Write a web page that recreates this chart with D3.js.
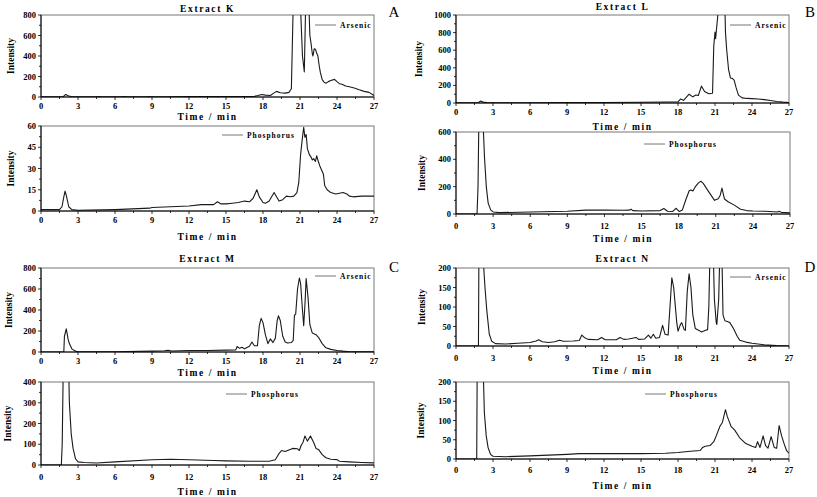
<!DOCTYPE html>
<html><head><meta charset="utf-8">
<script src="https://cdn.jsdelivr.net/npm/d3@7"></script>
<style>
body{margin:0;background:#fff;}
text{font-family:"Liberation Serif","Times New Roman",serif;fill:#000;}
</style></head>
<body><svg id="c" width="817" height="497"></svg>
<script>
// ---- data ----
const xTicks = [0,3,6,9,12,15,18,21,24,27];
const titles = ["Extract K","Extract L","Extract M","Extract N"];
const letters = ["A","B","C","D"];
const seriesNames = ["Arsenic","Phosphorus"];
const yTicksKAs = [0,200,400,600,800];
const yTicksKP = [0,15,30,45,60];
const yTicksLAs = [0,200,400,600,800,1000];
const yTicksLP = [0,200,400,600];
const yTicksMAs = [0,200,400,600,800];
const yTicksMP = [0,100,200,300,400];
const yTicksNAs = [0,50,100,150,200];
const yTicksNP = [0,50,100,150,200];

const kAs = [[0,2],[1,1],[1.8,3],[2.0,25],[2.2,12],[2.5,3],[3,2],[4.5,1],[4.7,5],[4.9,1],[6.5,2],[6.7,4],[7,1],[8.5,2],[8.8,4],[9,1],[10,3],[12,4],[15,4],[16.5,5],[17.3,6],[17.6,15],[17.9,25],[18.2,18],[18.6,15],[18.9,40],[19.1,55],[19.4,42],[19.8,38],[20.1,45],[20.3,80],[20.45,900],[20.6,1500],[20.9,1500],[21.05,850],[21.2,400],[21.35,245],[21.45,850],[21.6,1500],[21.72,900],[21.8,600],[21.9,520],[22.0,420],[22.05,400],[22.15,470],[22.25,465],[22.35,430],[22.45,400],[22.55,310],[22.65,240],[22.8,170],[22.95,145],[23.1,135],[23.3,150],[23.5,160],[23.8,172],[24.0,150],[24.2,130],[24.4,125],[24.7,108],[25.0,100],[25.4,88],[25.8,70],[26.2,55],[26.6,45],[27,15]];
const kP = [[0,1],[1.5,1],[1.7,3],[1.85,10],[1.95,14],[2.05,11],[2.25,3],[2.5,1],[3,0.5],[6,1],[8.8,2],[9,2.5],[12,3.5],[13,4.5],[14,4.5],[14.3,6.5],[14.6,5],[15,5],[15.5,5.5],[16,6],[16.5,7],[16.9,6.5],[17.2,9],[17.5,15],[17.7,10],[18,6],[18.2,5.5],[18.5,7],[18.9,13],[19.1,10],[19.3,7],[19.6,8],[19.9,10.5],[20.2,10],[20.5,10.5],[20.75,13],[20.9,20],[21.05,40],[21.2,52],[21.3,59],[21.4,52],[21.5,54],[21.6,44],[21.75,40],[21.9,38],[22.0,36],[22.1,37],[22.25,35],[22.35,39],[22.45,36],[22.6,32],[22.75,29],[22.9,26],[23.0,18],[23.2,15],[23.5,13],[23.9,12],[24.2,12.5],[24.5,13],[24.8,12],[25.0,10.5],[25.3,10],[26,10.5],[27,10.5]];
const lAs = [[0,2],[1.8,3],[2.0,22],[2.2,10],[2.5,4],[3,3],[6,3],[9,5],[12,6],[15,8],[17,12],[18,12],[18.2,45],[18.45,30],[18.9,100],[19.2,70],[19.45,90],[19.65,85],[19.9,192],[20.15,130],[20.5,105],[20.8,110],[20.9,650],[21.0,805],[21.05,730],[21.15,880],[21.3,1100],[21.8,1100],[21.85,800],[21.95,600],[22.1,380],[22.25,285],[22.4,280],[22.55,260],[22.7,180],[22.9,90],[23.2,58],[23.6,52],[24,50],[24.5,45],[25,38],[25.5,28],[26,17],[26.5,10],[27,5]];
const lP = [[0,0],[1.7,0],[1.78,200],[1.85,700],[2.15,700],[2.22,600],[2.3,420],[2.45,200],[2.6,80],[2.8,30],[3.0,15],[3.5,10],[6,15],[9,20],[10.5,28],[12,28],[13.5,27],[14.0,28],[14.15,35],[14.3,25],[15,22],[16.5,25],[16.8,40],[17.1,20],[17.5,18],[17.8,42],[18.05,18],[18.3,30],[18.6,110],[18.85,170],[19.0,175],[19.15,168],[19.35,200],[19.6,228],[19.8,240],[20.0,222],[20.3,180],[20.6,140],[20.9,100],[21.2,112],[21.35,135],[21.5,190],[21.7,110],[22.0,90],[22.5,65],[23.0,35],[23.5,25],[24,22],[25,20],[26,15],[26.1,20],[26.3,12],[27,8]];
const mAs = [[0,0],[1.85,0],[1.9,150],[2.05,220],[2.2,120],[2.3,80],[2.5,30],[2.8,8],[3,3],[6,3],[9,8],[10,12],[10.3,16],[10.6,10],[12,15],[13.5,15],[15,18],[15.8,20],[15.9,52],[16.1,35],[16.3,45],[16.5,30],[16.9,55],[17.1,95],[17.3,60],[17.55,60],[17.7,250],[17.85,320],[18.0,280],[18.2,160],[18.4,80],[18.6,125],[18.8,90],[19.0,130],[19.15,300],[19.25,345],[19.4,300],[19.6,150],[19.8,95],[20.0,85],[20.3,90],[20.45,110],[20.55,350],[20.65,360],[20.8,600],[20.95,705],[21.05,650],[21.2,400],[21.3,250],[21.4,450],[21.5,700],[21.65,520],[21.8,260],[22.0,180],[22.3,165],[22.5,140],[22.8,80],[23.1,40],[23.5,25],[24.0,15],[24.5,8],[25,3],[27,2]];
const mP = [[0,0],[1.65,0],[1.72,100],[1.8,450],[2.25,450],[2.3,300],[2.45,150],[2.6,80],[2.8,30],[3.0,15],[3.5,12],[4.5,10],[6,15],[9,25],[10.5,28],[12,25],[14,22],[15,20],[17,18],[18.5,18],[19.0,25],[19.3,55],[19.5,70],[19.8,65],[20.0,70],[20.4,80],[20.8,78],[20.95,70],[21.1,95],[21.25,110],[21.4,140],[21.6,115],[21.85,140],[22.1,110],[22.3,80],[22.5,75],[22.8,50],[23.1,35],[23.5,28],[24.0,26],[24.2,18],[25,15],[26,12],[27,10]];
const nAs = [[0,0],[1.82,0],[1.86,250],[2.2,250],[2.25,200],[2.35,150],[2.5,90],[2.7,30],[2.9,12],[3.2,6],[4,5],[5,7],[6,9],[6.5,13],[6.7,16],[7.0,11],[7.5,9],[8,11],[8.4,15],[8.7,12],[9.5,13],[10,14],[10.2,28],[10.4,22],[10.7,17],[11.5,16],[11.8,22],[12.1,16],[13,16],[13.3,22],[13.6,17],[14,18],[14.6,22],[14.8,17],[15.3,18],[15.6,28],[15.8,20],[16.0,30],[16.2,20],[16.5,22],[16.75,53],[16.95,30],[17.2,28],[17.35,100],[17.5,175],[17.65,150],[17.9,60],[18.0,38],[18.2,55],[18.3,60],[18.5,42],[18.6,40],[18.75,140],[18.9,185],[19.05,150],[19.2,80],[19.4,45],[19.7,40],[19.9,36],[20.2,40],[20.4,42],[20.5,100],[20.6,250],[20.85,250],[20.95,120],[21.1,60],[21.15,55],[21.3,120],[21.4,250],[21.55,250],[21.65,80],[21.8,65],[22.0,63],[22.2,60],[22.5,45],[22.8,25],[23.0,15],[23.5,10],[24,7],[25,3],[26,1],[27,0]];
const nP = [[0,0],[1.68,0],[1.72,250],[2.19,250],[2.3,120],[2.45,60],[2.6,30],[2.8,12],[3.0,7],[4,6],[6,8],[9,12],[10,14],[12,14],[15,14],[17,15],[18,17],[19,20],[19.8,22],[20.0,30],[20.2,33],[20.6,35],[20.9,45],[21.1,60],[21.4,85],[21.6,95],[21.75,115],[21.85,128],[22.0,110],[22.3,85],[22.6,75],[23.0,55],[23.5,40],[24.0,33],[24.3,30],[24.45,45],[24.65,30],[24.9,60],[25.1,35],[25.3,28],[25.55,58],[25.8,30],[26.0,28],[26.2,87],[26.4,60],[26.6,40],[26.8,22],[27,15]];

// ---- layout ----
const panels = [
 {data:kAs, yt:yTicksKAs, minor:100, name:0, box:[41,374,15,97], tl:109, tm:120, ix:11, title:0, titleY:12, leg:[315,25]},
 {data:kP,  yt:yTicksKP,  minor:7.5, name:1, box:[41,374,126,211], tl:223, tm:240, ix:11, leg:[222,135]},
 {data:lAs, yt:yTicksLAs, minor:100, name:0, box:[456,789,15,103], tl:115, tm:130, ix:419, title:1, titleY:10, leg:[730,25]},
 {data:lP,  yt:yTicksLP,  minor:100, name:1, box:[456,790,132,214], tl:229, tm:242, ix:422, leg:[644,144]},
 {data:mAs, yt:yTicksMAs, minor:100, name:0, box:[41,374,268,352], tl:364, tm:376, ix:9, title:2, titleY:262, leg:[315,276]},
 {data:mP,  yt:yTicksMP,  minor:50, name:1, box:[41,374,382,465], tl:480, tm:495, ix:8, leg:[226,394]},
 {data:nAs, yt:yTicksNAs, minor:25, name:0, box:[456,789,268,346], tl:361, tm:374, ix:422, title:3, titleY:262, leg:[730,277]},
 {data:nP,  yt:yTicksNP,  minor:25, name:1, box:[456,789,382,459], tl:473, tm:489, ix:421, leg:[645,394]}
];
const letterPos = [[394,17],[810,17],[394,272],[810,272]];

const svg = d3.select("#c");
panels.forEach((p,i)=>{
  const [x0,x1,y0,y1] = p.box;
  const yMax = p.yt[p.yt.length-1];
  const x = d3.scaleLinear().domain([0,27]).range([x0,x1]);
  const y = d3.scaleLinear().domain([0,yMax]).range([y1,y0]);
  const g = svg.append("g");
  const cid = "clip"+i;
  svg.append("clipPath").attr("id",cid).append("rect")
    .attr("x",x0).attr("y",y0).attr("width",x1-x0).attr("height",y1-y0);
  // frame
  g.append("rect").attr("x",x0).attr("y",y0).attr("width",x1-x0).attr("height",y1-y0)
    .attr("fill","none").attr("stroke","#777").attr("stroke-width",1);
  // data
  g.append("path").datum(p.data).attr("clip-path","url(#"+cid+")")
    .attr("fill","none").attr("stroke","#1a1a1a").attr("stroke-width",1.1)
    .attr("stroke-linejoin","round")
    .attr("d", d3.line().x(d=>x(d[0])).y(d=>y(d[1])));
  // x axis
  const minorX = d3.range(0,27.01,1.5);
  g.append("line").attr("x1",x0).attr("x2",x1).attr("y1",y1).attr("y2",y1).attr("stroke","#000").attr("stroke-width",1);
  g.selectAll(".mx").data(minorX).enter().append("line")
    .attr("x1",d=>x(d)).attr("x2",d=>x(d)).attr("y1",y1).attr("y2",d=>y1+(d%3===0?3:2))
    .attr("stroke","#000").attr("stroke-width",0.8);
  g.selectAll(".xl").data(xTicks).enter().append("text")
    .attr("x",d=>x(d)).attr("y",p.tl).attr("text-anchor","middle")
    .attr("font-size",8.5).attr("font-weight","bold").text(d=>d);
  g.append("text").attr("x",(x0+x1)/2).attr("y",p.tm).attr("text-anchor","middle")
    .attr("font-size",9.5).attr("font-weight","bold").attr("letter-spacing",1.6).text("Time / min");
  // y axis
  g.append("line").attr("x1",x0).attr("x2",x0).attr("y1",y0).attr("y2",y1).attr("stroke","#000").attr("stroke-width",1);
  const minorY = d3.range(0,yMax+0.01,p.minor);
  g.selectAll(".my").data(minorY).enter().append("line")
    .attr("x1",x0).attr("x2",d=>x0-(p.yt.includes(d)?3:2)).attr("y1",d=>y(d)).attr("y2",d=>y(d))
    .attr("stroke","#000").attr("stroke-width",0.8);
  g.selectAll(".yl").data(p.yt).enter().append("text")
    .attr("x",x0-5).attr("y",d=>y(d)+3).attr("text-anchor","end")
    .attr("font-size",8.5).attr("font-weight","bold").text(d=>d);
  g.append("text").attr("transform",`translate(${p.ix},${(y0+y1)/2}) rotate(-90)`)
    .attr("text-anchor","middle").attr("dy","0.35em")
    .attr("font-size",9.5).attr("font-weight","bold").text("Intensity");
  // legend
  const [lx,ly] = p.leg;
  g.append("line").attr("x1",lx).attr("x2",lx+21).attr("y1",ly).attr("y2",ly).attr("stroke","#777").attr("stroke-width",1);
  g.append("text").attr("x",lx+25).attr("y",ly+3).attr("font-size",7.5).attr("font-weight","bold")
    .attr("letter-spacing",1).text(seriesNames[p.name]);
  if (p.title!==undefined){
    g.append("text").attr("x",(x0+x1)/2).attr("y",p.titleY).attr("text-anchor","middle")
      .attr("font-size",9.5).attr("font-weight","bold").attr("letter-spacing",1.6).text(titles[p.title]);
    svg.append("text").attr("x",letterPos[p.title][0]).attr("y",letterPos[p.title][1])
      .attr("text-anchor","middle").attr("font-size",15).text(letters[p.title]);
  }
});
</script></body></html>
